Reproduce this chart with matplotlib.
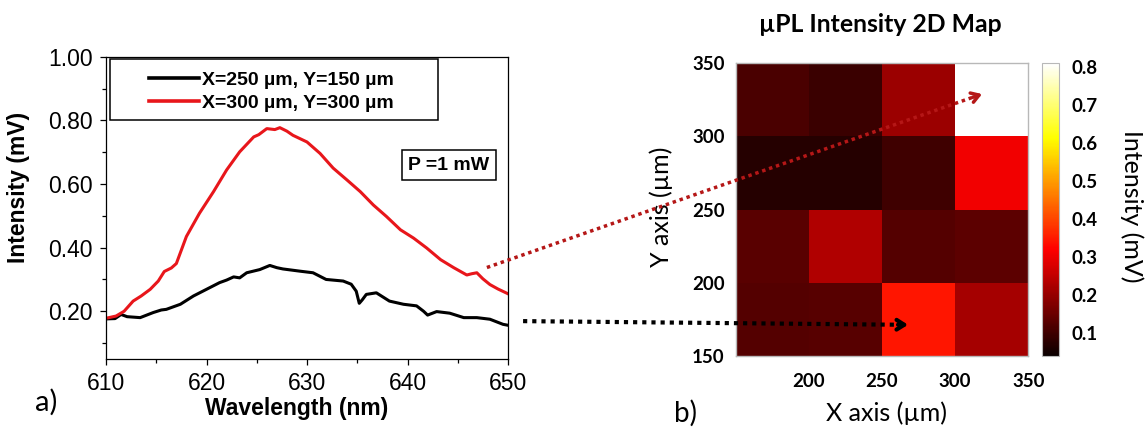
import numpy as np
import matplotlib
matplotlib.use("Agg")
import matplotlib.pyplot as plt
from matplotlib.patches import ConnectionPatch, Rectangle
from matplotlib.ticker import MultipleLocator, FormatStrFormatter

# ---------------- data ----------------
red_wl = [610.0, 611.0, 611.8, 612.7, 613.5, 614.4, 615.2, 615.8, 616.5, 617.0,
          618.0, 619.3, 620.7, 622.0, 623.3, 624.7, 625.2, 626.0, 626.8, 627.3,
          628.0, 628.6, 630.0, 631.3, 632.6, 634.0, 635.3, 636.6, 637.9, 639.3,
          640.6, 641.9, 643.3, 644.6, 645.9, 646.4, 646.9, 647.5, 648.2, 649.0, 650.0]
red_int = [0.178, 0.185, 0.200, 0.232, 0.248, 0.269, 0.295, 0.325, 0.336, 0.350,
           0.435, 0.508, 0.576, 0.644, 0.701, 0.748, 0.755, 0.774, 0.771, 0.777,
           0.766, 0.753, 0.732, 0.696, 0.650, 0.612, 0.576, 0.534, 0.498, 0.456,
           0.430, 0.399, 0.362, 0.337, 0.314, 0.318, 0.321, 0.302, 0.284, 0.270, 0.255]

black_wl = [610.0, 610.9, 611.5, 612.1, 613.4, 614.7, 615.5, 616.0, 617.4, 618.7,
            620.0, 621.3, 622.0, 622.7, 623.3, 624.0, 625.3, 626.3, 627.0, 627.6,
            629.3, 630.6, 631.9, 633.6, 634.4, 634.9, 635.2, 635.5, 635.9, 636.9,
            638.2, 639.6, 640.9, 641.6, 642.0, 642.9, 644.2, 645.6, 646.9, 648.2,
            649.5, 650.0]
black_int = [0.176, 0.177, 0.190, 0.183, 0.180, 0.196, 0.204, 0.206, 0.222, 0.248,
             0.269, 0.290, 0.298, 0.308, 0.305, 0.321, 0.331, 0.344, 0.337, 0.333,
             0.326, 0.321, 0.300, 0.295, 0.285, 0.263, 0.225, 0.236, 0.253, 0.258,
             0.232, 0.222, 0.217, 0.200, 0.188, 0.199, 0.194, 0.180, 0.180, 0.175,
             0.159, 0.156]

series_labels = ["X=250 µm, Y=150 µm", "X=300 µm, Y=300 µm"]

map_x_edges = [150, 200, 250, 300, 350]
map_y_edges = [150, 200, 250, 300, 350]
# rows listed from top (y=300-350) to bottom (y=150-200)
map_rows_top_down = [
    [0.113, 0.095, 0.208, 0.810],
    [0.072, 0.072, 0.101, 0.306],
    [0.131, 0.232, 0.127, 0.136],
    [0.126, 0.129, 0.345, 0.218],
]
map_xticks = [200, 250, 300, 350]
map_yticks = [150, 200, 250, 300, 350]
cbar_ticks = [0.1, 0.2, 0.3, 0.4, 0.5, 0.6, 0.7, 0.8]

# arrow anchor points (left: wavelength/intensity, right: map coords)
red_arrow_start = (647.9, 0.3375)
red_arrow_end = (318.4, 329.0)
black_arrow_start = (651.5, 0.169)
black_arrow_end = (267.8, 171.3)

# ---------------- figure ----------------
W, H = 1147, 428
fig = plt.figure(figsize=(W / 100, H / 100), dpi=100)

ARIAL = "Liberation Sans"
CAL = "Lato"

def fx(px):
    return px / W

def fy(py):
    return 1 - py / H

# ---- left panel ----
ax1 = fig.add_axes([fx(106), fy(359), fx(508) - fx(106), fy(56.7) - fy(359)])
red_col = "#e8161b"
l1, = ax1.plot(black_wl, black_int, color="black", lw=2.2)
l2, = ax1.plot(red_wl, red_int, color=red_col, lw=2.2)
ax1.set_xlim(610, 650)
ax1.set_ylim(0.05, 1.0)
ax1.xaxis.set_major_locator(MultipleLocator(10))
ax1.xaxis.set_minor_locator(MultipleLocator(5))
ax1.set_yticks([0.2, 0.4, 0.6, 0.8, 1.0])
ax1.yaxis.set_minor_locator(MultipleLocator(0.1))
ax1.yaxis.set_major_formatter(FormatStrFormatter("%.2f"))
ax1.tick_params(which="major", direction="out", length=4.5, width=0.9,
                labelsize=16.5, pad=5)
ax1.tick_params(which="minor", direction="out", length=3, width=0.9)
for lab in ax1.get_xticklabels() + ax1.get_yticklabels():
    lab.set_fontfamily(ARIAL)
for sp in ax1.spines.values():
    sp.set_linewidth(0.9)

ax1.set_xlabel("Wavelength (nm)", fontsize=16.5, fontweight="bold",
               family=ARIAL, va="center")
ax1.xaxis.set_label_coords((297 - 106) / 402, (359 - 408) / 302.3)
ax1.set_ylabel("Intensity (mV)", fontsize=16.5, fontweight="bold",
               family=ARIAL, va="center")
ax1.yaxis.set_label_coords((19 - 106) / 402, (359 - 187.5) / 302.3)

leg = ax1.legend([l1, l2], series_labels, loc="center left",
                 bbox_to_anchor=((139 - 106) / 402, (359 - 91.7) / 302.3),
                 frameon=False, borderpad=0, handlelength=2.6,
                 handletextpad=0.15, labelspacing=0.3,
                 prop={"family": ARIAL, "weight": "bold", "size": 14})
for h in leg.get_lines():
    h.set_linewidth(2.6)
ax1.add_patch(Rectangle(((110 - 106) / 402, (359 - 120) / 302.3),
                        (438 - 110) / 402, (120 - 59) / 302.3,
                        transform=ax1.transAxes, fill=False,
                        edgecolor="black", lw=1.1, zorder=5))

ax1.text((449 - 106) / 402, (359 - 165) / 302.3, "P =1 mW",
         transform=ax1.transAxes, ha="center", va="center",
         fontsize=14, fontweight="bold", family=ARIAL,
         bbox=dict(boxstyle="square,pad=0.33", fc="white", ec="black", lw=1.1))

fig.text(fx(46), fy(402), "a)", fontsize=21, family=CAL, ha="center", va="center")

# ---- right panel ----
ax2 = fig.add_axes([fx(735.7), fy(356), fx(1028.3) - fx(735.7), fy(63.3) - fy(356)])
vals = np.array(map_rows_top_down[::-1])
mesh = ax2.pcolormesh(map_x_edges, map_y_edges, vals, cmap="hot",
                      vmin=0.04, vmax=0.81, shading="flat")
ax2.set_xlim(150, 350)
ax2.set_ylim(150, 350)
ax2.set_xticks(map_xticks)
ax2.set_yticks(map_yticks)
ax2.tick_params(axis="x", length=0, labelsize=13.5, pad=12)
ax2.tick_params(axis="y", length=0, labelsize=13.5, pad=8)
for lab in ax2.get_xticklabels() + ax2.get_yticklabels():
    lab.set_fontfamily(CAL)
    lab.set_fontweight("bold")
for sp in ax2.spines.values():
    sp.set_color("#b8b8b8")
    sp.set_linewidth(1.0)

ax2.set_xlabel("X axis (µm)", fontsize=18, family=CAL, va="center")
ax2.xaxis.set_label_coords((887 - 735.7) / 292.6, (356 - 413) / 292.7)
ax2.set_ylabel("Y axis (µm)", fontsize=18, family=CAL, va="center")
ax2.yaxis.set_label_coords((661 - 735.7) / 292.6, (356 - 207) / 292.7)
ax2.set_title("µPL Intensity 2D Map", fontsize=17.8, fontweight="bold", family=CAL,
              x=(880 - 735.7) / 292.6, y=(356 - 32.5) / 292.7, va="baseline", pad=0)

cax = fig.add_axes([fx(1041.7), fy(356), fx(1059.3) - fx(1041.7), fy(63.3) - fy(356)])
cb = fig.colorbar(mesh, cax=cax, ticks=cbar_ticks)
cb.outline.set_edgecolor("#b8b8b8")
cb.outline.set_linewidth(0.8)
cax.tick_params(length=0, labelsize=13.5, pad=9)
cax.set_yticklabels([f"{t:.1f}" for t in cbar_ticks])
for lab in cax.get_yticklabels():
    lab.set_fontfamily(CAL)
    lab.set_fontweight("bold")
cb.set_label("Intensity (mV)", fontsize=18, family=CAL, rotation=270, va="center")
cax.yaxis.set_label_coords((1132 - 1041.7) / 17.6, (356 - 206) / 292.7)

fig.text(fx(686), fy(413), "b)", fontsize=20, family=CAL, ha="center", va="center")

# ---- connecting arrows ----
dark_red = "#b51717"

def arrow(start, end, color, lw, dash, back):
    e_px = ax2.transData.transform(end)
    s_px = ax1.transData.transform(start)
    d = e_px - s_px
    d = d / np.hypot(*d)
    stop = ax2.transData.inverted().transform(e_px - d * back)
    con = ConnectionPatch(xyA=start, coordsA=ax1.transData,
                          xyB=tuple(stop), coordsB=ax2.transData,
                          color=color, lw=lw, linestyle=dash,
                          capstyle="butt", shrinkA=0, shrinkB=0, zorder=10)
    fig.add_artist(con)
    tail = ax2.transData.inverted().transform(e_px - d * (back + 2))
    ax2.annotate("", xy=end, xytext=tuple(tail), xycoords="data",
                 arrowprops=dict(arrowstyle="->,head_length=0.55,head_width=0.35",
                                 color=color, lw=lw, shrinkA=0, shrinkB=0),
                 annotation_clip=False, zorder=11)

arrow(red_arrow_start, red_arrow_end, dark_red, 2.5, (0, (1, 1.1)), 8)
arrow(black_arrow_start, black_arrow_end, "black", 3.0, (0, (1, 1.2)), 8)

fig.savefig("out.png", dpi=100)
